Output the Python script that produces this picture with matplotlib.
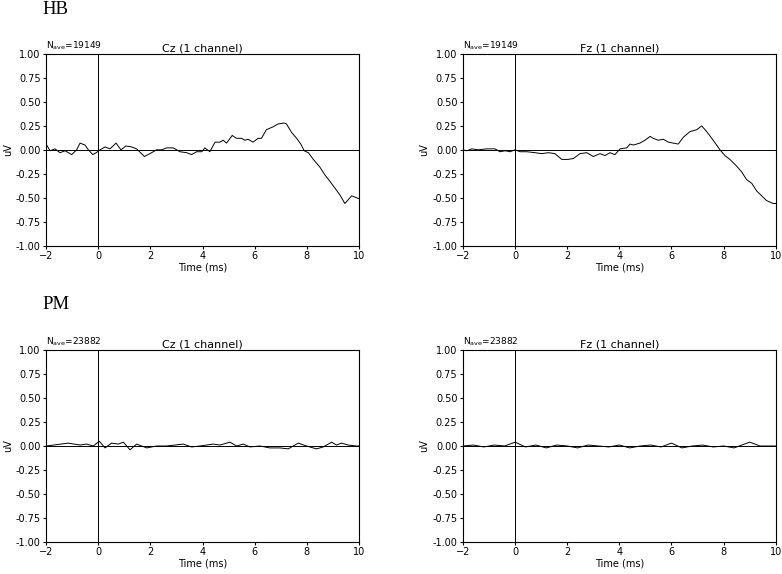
import matplotlib.pyplot as plt

# HB group, Cz
hb_cz_t = [-2.0, -1.85, -1.66, -1.47, -1.27, -1.02, -0.83, -0.70, -0.51, -0.38, -0.21, -0.08,
           0.07, 0.26, 0.45, 0.68, 0.87, 1.06, 1.28, 1.47, 1.77, 1.98, 2.24, 2.43, 2.62, 2.88,
           3.13, 3.39, 3.58, 3.77, 3.97, 4.09, 4.28, 4.48, 4.67, 4.79, 4.92, 5.14, 5.30, 5.50,
           5.62, 5.75, 5.94, 6.13, 6.26, 6.45, 6.71, 6.90, 7.13, 7.22, 7.42, 7.61, 7.77, 7.90,
           8.06, 8.25, 8.50, 8.69, 8.89, 9.08, 9.27, 9.46, 9.72, 10.0]
hb_cz_v = [0.06, -0.01, 0.01, -0.03, -0.01, -0.05, 0.0, 0.07, 0.05, 0.0, -0.05, -0.03,
           0.0, 0.03, 0.01, 0.07, 0.0, 0.04, 0.03, 0.01, -0.07, -0.04, 0.0, 0.0, 0.02, 0.02,
           -0.02, -0.03, -0.05, -0.02, -0.02, 0.02, -0.02, 0.08, 0.08, 0.10, 0.07, 0.15, 0.12, 0.12,
           0.10, 0.11, 0.08, 0.12, 0.12, 0.21, 0.24, 0.27, 0.28, 0.27, 0.18, 0.12, 0.06, -0.01,
           -0.03, -0.10, -0.18, -0.26, -0.33, -0.40, -0.47, -0.56, -0.48, -0.51]

# HB group, Fz
hb_fz_t = [-2.0, -1.85, -1.66, -1.41, -1.09, -0.77, -0.58, -0.38, -0.19, 0.0, 0.19, 0.45,
           0.77, 1.02, 1.28, 1.53, 1.79, 2.04, 2.24, 2.49, 2.75, 3.0, 3.26, 3.45, 3.64, 3.83,
           4.03, 4.28, 4.41, 4.54, 4.79, 4.98, 5.18, 5.30, 5.49, 5.69, 5.88, 6.07, 6.26, 6.45,
           6.71, 6.97, 7.16, 7.35, 7.60, 7.86, 8.05, 8.24, 8.50, 8.69, 8.88, 9.08, 9.27, 9.46,
           9.65, 9.90, 10.0]
hb_fz_v = [0.0, -0.01, 0.01, 0.0, 0.01, 0.01, -0.02, -0.01, -0.02, 0.0, -0.02, -0.02,
           -0.03, -0.04, -0.03, -0.04, -0.10, -0.10, -0.09, -0.04, -0.03, -0.07, -0.04, -0.06, -0.03, -0.05,
           0.01, 0.02, 0.06, 0.05, 0.07, 0.10, 0.14, 0.12, 0.10, 0.11, 0.08, 0.07, 0.06, 0.13,
           0.19, 0.21, 0.25, 0.19, 0.10, 0.0, -0.06, -0.10, -0.17, -0.23, -0.31, -0.35, -0.43, -0.48,
           -0.53, -0.56, -0.56]

# PM group, Cz
pm_cz_t = [-2.0, -1.15, -0.70, -0.45, -0.19, 0.04, 0.26, 0.51, 0.77, 0.96, 1.22, 1.47, 1.86,
           2.24, 2.62, 3.26, 3.58, 3.90, 4.41, 4.67, 5.05, 5.31, 5.56, 5.82, 6.20, 6.58, 6.97,
           7.29, 7.67, 7.99, 8.37, 8.63, 8.95, 9.14, 9.33, 9.59, 9.91, 10.0]
pm_cz_v = [0.0, 0.03, 0.01, 0.02, 0.0, 0.05, -0.02, 0.03, 0.02, 0.04, -0.04, 0.02, -0.02,
           0.0, 0.0, 0.02, -0.01, 0.0, 0.02, 0.01, 0.04, 0.0, 0.02, -0.01, 0.0, -0.02, -0.02,
           -0.03, 0.03, 0.0, -0.03, -0.01, 0.04, 0.01, 0.03, 0.01, 0.0, 0.0]

# PM group, Fz
pm_fz_t = [-2.0, -1.6, -1.2, -0.8, -0.4, 0.0, 0.4, 0.8, 1.2, 1.6, 2.0, 2.4, 2.8, 3.2, 3.6,
           4.0, 4.4, 4.8, 5.2, 5.6, 6.0, 6.4, 6.8, 7.2, 7.6, 8.0, 8.4, 8.8, 9.0, 9.4, 10.0]
pm_fz_v = [0.0, 0.01, -0.01, 0.01, 0.0, 0.04, -0.01, 0.01, -0.02, 0.01, 0.0, -0.02, 0.01, 0.0, -0.01,
           0.01, -0.02, 0.0, 0.01, -0.01, 0.03, -0.02, 0.0, 0.01, -0.01, 0.0, -0.02, 0.02, 0.04, 0.0, 0.0]

groups = ['HB', 'PM']
channels = ['Cz', 'Fz']
n_ave = {'HB': 19149, 'PM': 23882}
traces = {('HB', 'Cz'): (hb_cz_t, hb_cz_v), ('HB', 'Fz'): (hb_fz_t, hb_fz_v),
          ('PM', 'Cz'): (pm_cz_t, pm_cz_v), ('PM', 'Fz'): (pm_fz_t, pm_fz_v)}

fig = plt.figure(figsize=(7.82, 5.74), dpi=100)

lefts = [0.059, 0.592]
bottoms = [0.572, 0.056]
w, h = 0.400, 0.334

for r, g in enumerate(groups):
    # group name above each row
    fig.text(0.054, [0.984, 0.470][r], g, family='Liberation Serif', fontsize=13.5, va='center')
    for c, ch in enumerate(channels):
        ax = fig.add_axes([lefts[c], bottoms[r], w, h])
        t, v = traces[(g, ch)]
        ax.plot(t, v, color='black', lw=0.7)
        ax.axhline(0, color='black', lw=0.7)
        ax.axvline(0, color='black', lw=0.7)
        ax.set_xlim(-2, 10)
        ax.set_ylim(-1, 1)
        ax.set_yticks([-1, -0.75, -0.5, -0.25, 0, 0.25, 0.5, 0.75, 1])
        ax.set_yticklabels(['%.2f' % y for y in ax.get_yticks()])
        ax.tick_params(labelsize=7, length=2.5, pad=1.5)
        ax.set_xlabel('Time (ms)', fontsize=7, labelpad=1)
        ax.set_ylabel('uV', fontsize=7, labelpad=2)
        ax.set_title('%s (1 channel)' % ch, fontsize=8, pad=2)
        ax.text(0.0, 1.01, r'N$_{\mathrm{ave}}$=%d' % n_ave[g], transform=ax.transAxes,
                fontsize=6.5, ha='left', va='bottom')

plt.savefig('out.png', dpi=100)
